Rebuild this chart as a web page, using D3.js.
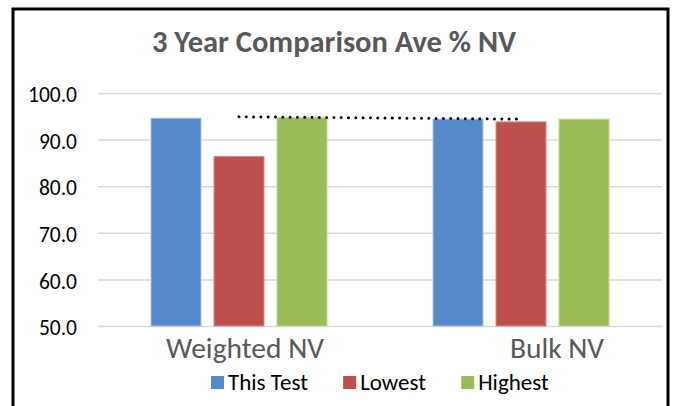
<!DOCTYPE html>
<html>
<head>
<meta charset="utf-8">
<script src="https://cdn.jsdelivr.net/npm/d3@7"></script>
<style>
    body { margin: 0; background: #fff; }
    svg { display: block; }
    text { font-family: Calibri, Carlito, Lato, sans-serif; }
</style>
</head>
<body>
<div id="chart"></div>
<script>
var categories = ['Weighted NV', 'Bulk NV'];
var seriesNames = ['This Test', 'Lowest', 'Highest'];
var thisTest = [94.6, 94.4];
var lowest = [86.4, 93.8];
var highest = [94.7, 94.4];
var refLine = [94.9, 94.4];
var yTicks = [50, 60, 70, 80, 90, 100];

var colors = ['#5689c9', '#c0504d', '#9bbb59'];
var strokes = ['#a9c4e8', '#d98c8a', '#c3d89b'];

var width = 673, height = 406;
var plot = { left: 98, right: 662, top: 93, bottom: 326 };

var svg = d3.select('#chart').append('svg').attr('width', width).attr('height', height);

svg.append('rect').attr('width', width).attr('height', height).attr('fill', '#fff');

// outer frame (bottom edge runs off the picture)
svg.append('rect')
    .attr('x', 13).attr('y', 9).attr('width', 655).attr('height', 430)
    .attr('fill', 'none').attr('stroke', '#000').attr('stroke-width', 3);

svg.append('text')
    .attr('x', 334).attr('y', 52)
    .attr('text-anchor', 'middle')
    .attr('font-size', 30.5).attr('font-weight', 'bold')
    .attr('fill', '#595959')
    .text('3 Year Comparison Ave % NV');

var x = d3.scaleBand().domain(categories).range([plot.left, plot.right]);
var y = d3.scaleLinear().domain([50, 100]).range([plot.bottom, plot.top]);

var groupWidth = 176;
var xs = d3.scaleBand().domain(seriesNames).range([0, groupWidth]).paddingInner(13 / 63);
var groupOffset = (x.bandwidth() - groupWidth) / 2;

// gridlines + y labels
var yAxis = d3.axisLeft(y).tickValues(yTicks).tickFormat(d3.format('.1f'))
    .tickSize(-(plot.right - plot.left)).tickPadding(21);
var gy = svg.append('g').attr('transform', 'translate(' + plot.left + ',0)').call(yAxis);
gy.select('.domain').remove();
gy.selectAll('.tick line').attr('stroke', '#d9d9d9').attr('stroke-width', 1.5);
gy.selectAll('.tick text')
    .attr('font-size', 21.5).attr('fill', '#000')
    .attr('font-family', 'Calibri, Carlito, Lato, sans-serif')
    .attr('dy', '0.4em');

var series = [thisTest, lowest, highest];
var rows = [];
series.forEach(function (vals, s) {
    vals.forEach(function (v, c) {
        rows.push({ s: s, c: c, v: v });
    });
});

svg.append('g').selectAll('rect')
    .data(rows)
    .enter()
    .append('rect')
    .attr('x', function (d) { return x(categories[d.c]) + groupOffset + xs(seriesNames[d.s]); })
    .attr('y', function (d) { return y(d.v); })
    .attr('width', xs.bandwidth())
    .attr('height', function (d) { return y(50) - y(d.v); })
    .attr('fill', function (d) { return colors[d.s]; })
    .attr('stroke', function (d) { return strokes[d.s]; })
    .attr('stroke-width', 1);

// dotted reference line
var line = d3.line()
    .x(function (d, i) { return x(categories[i]) + x.bandwidth() / 2; })
    .y(function (d) { return y(d); });
svg.append('path')
    .datum(refLine)
    .attr('d', line)
    .attr('fill', 'none')
    .attr('stroke', '#000')
    .attr('stroke-width', 3)
    .attr('stroke-linecap', 'round')
    .attr('stroke-dasharray', '0 7.3');

// category labels
var labelNudge = [6, 36];
svg.append('g').selectAll('text')
    .data(categories)
    .enter()
    .append('text')
    .attr('x', function (d, i) { return x(d) + x.bandwidth() / 2 + labelNudge[i]; })
    .attr('y', 358)
    .attr('text-anchor', 'middle')
    .attr('font-size', 29.5)
    .attr('fill', '#595959')
    .text(function (d) { return d; });

// legend, centred under the plot
var legend = svg.append('g');
var items = legend.selectAll('g').data(seriesNames).enter().append('g');
items.append('rect')
    .attr('width', 13).attr('height', 13).attr('y', -14)
    .attr('fill', function (d, i) { return colors[i]; });
items.append('text')
    .attr('x', 17)
    .attr('font-size', 23)
    .attr('fill', '#000')
    .text(function (d) { return d; });
var pos = 0, offsets = [];
items.each(function () {
    offsets.push(pos);
    pos += this.getBBox().width + 35;
});
pos -= 35;
items.attr('transform', function (d, i) { return 'translate(' + offsets[i] + ',0)'; });
legend.attr('transform', 'translate(' + ((plot.left + plot.right) / 2 - pos / 2) + ',390)');
</script>
</body>
</html>
